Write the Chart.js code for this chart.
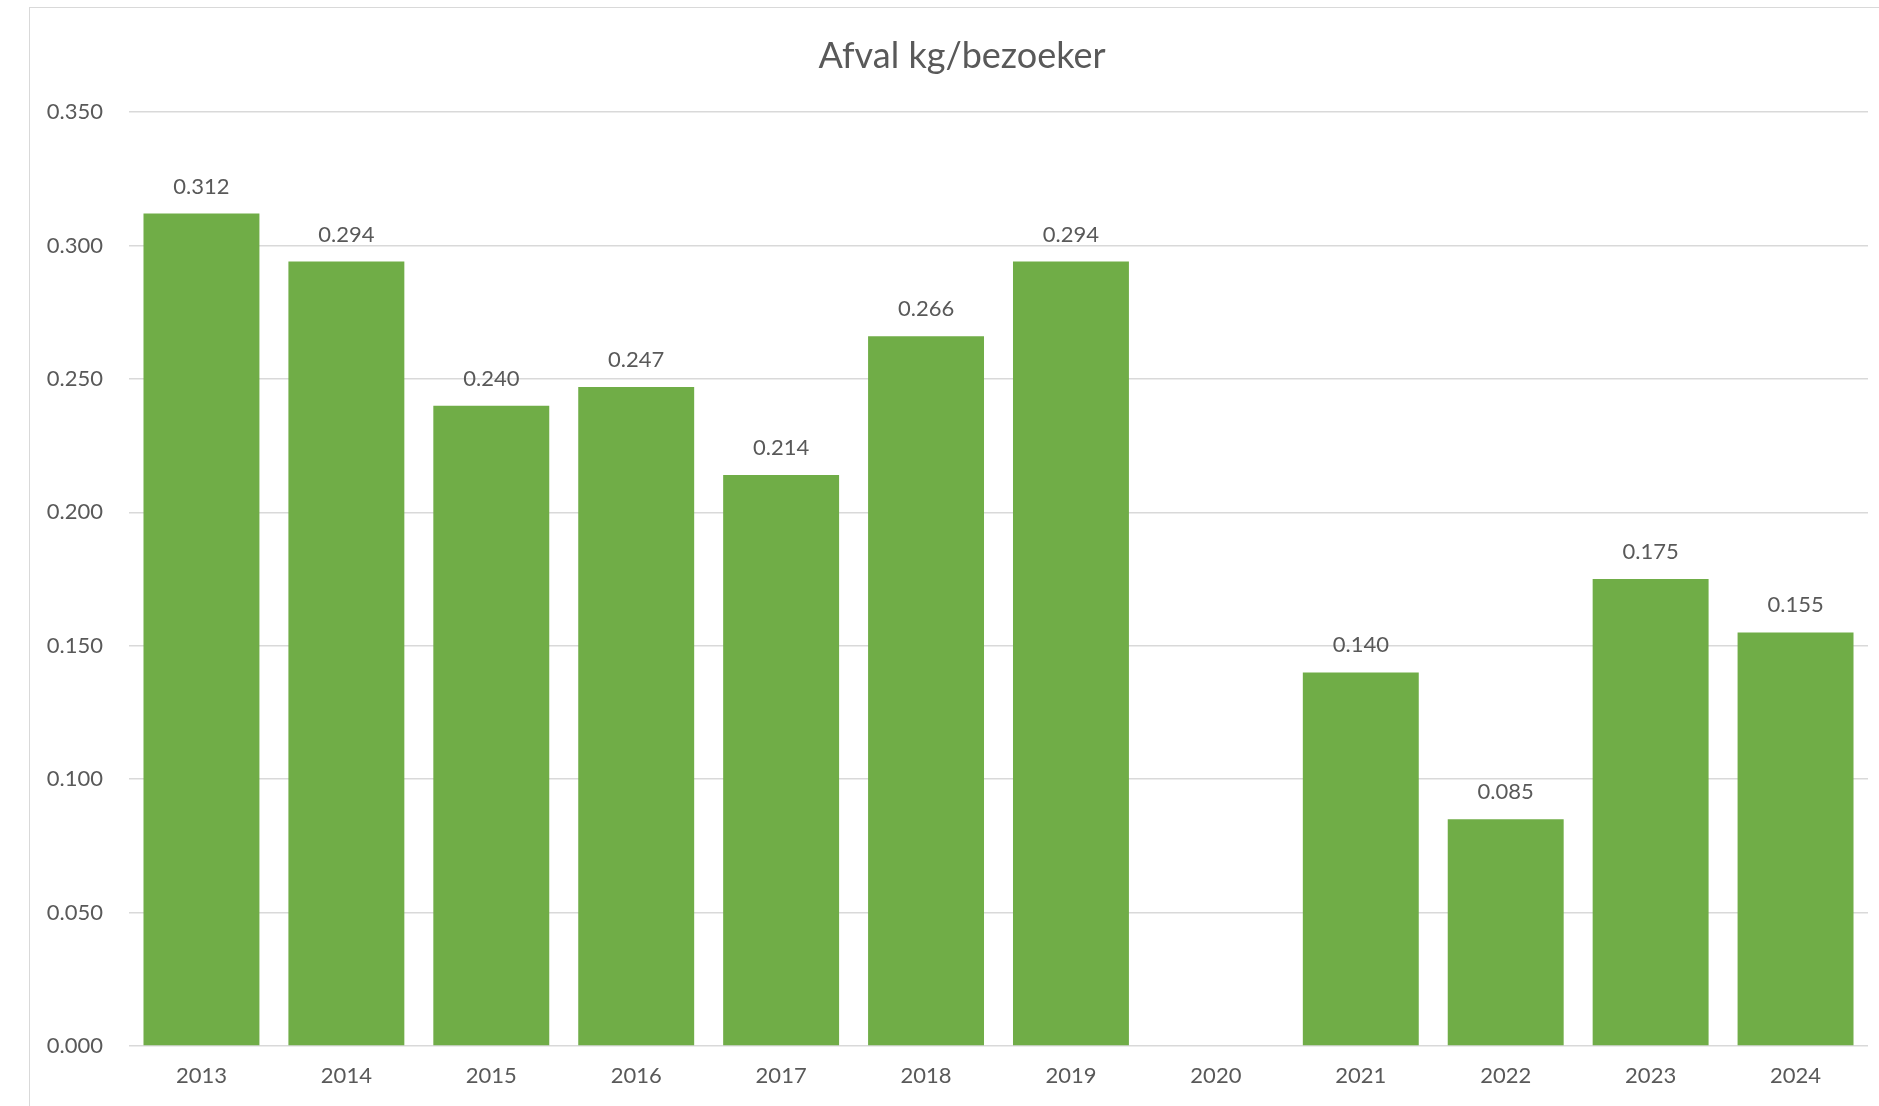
<!DOCTYPE html>
<html>
<head>
<meta charset="utf-8">
<script src="https://cdn.jsdelivr.net/npm/chart.js@4/dist/chart.umd.min.js"></script>
<style>
  html, body { margin: 0; padding: 0; background: #fff; overflow: hidden; width: 1879px; height: 1106px; }
  #wrap { position: absolute; left: 29px; top: 7px; width: 1866px; height: 1120px; border: 1px solid #d9d9d9; box-sizing: border-box; }
  canvas { display: block; }
</style>
</head>
<body>
<div id="wrap"><canvas id="c"></canvas></div>
<script>
const categories = ['2013','2014','2015','2016','2017','2018','2019','2020','2021','2022','2023','2024'];
const values = [0.312, 0.294, 0.240, 0.247, 0.214, 0.266, 0.294, null, 0.140, 0.085, 0.175, 0.155];
const chartTitle = 'Afval kg/bezoeker';
const yMin = 0, yMax = 0.35, yStep = 0.05;

const FONT = 'Lato, "Open Sans", sans-serif';
const TEXT = '#595959';

const valueLabels = {
  id: 'valueLabels',
  afterDatasetsDraw(chart) {
    const ctx = chart.ctx;
    const meta = chart.getDatasetMeta(0);
    ctx.save();
    ctx.font = '22px ' + FONT;
    ctx.fillStyle = TEXT;
    ctx.textAlign = 'center';
    ctx.textBaseline = 'alphabetic';
    meta.data.forEach((bar, i) => {
      const v = values[i];
      if (v === null || v === undefined) return;
      ctx.fillText(v.toFixed(3), bar.x, bar.y - 20);
    });
    ctx.restore();
  }
};

new Chart(document.getElementById('c'), {
  type: 'bar',
  data: {
    labels: categories,
    datasets: [{
      data: values,
      backgroundColor: '#70AD47',
      borderWidth: 0,
      categoryPercentage: 0.8,
      barPercentage: 1.0
    }]
  },
  options: {
    responsive: true,
    maintainAspectRatio: false,
    animation: false,
    layout: { padding: { left: 0, right: 0, top: 0, bottom: 0 } },
    plugins: {
      legend: { display: false },
      tooltip: { enabled: false },
      title: {
        display: true,
        text: chartTitle,
        color: TEXT,
        font: { family: FONT, size: 36, weight: 'normal' },
        padding: { top: 27, bottom: 34 }
      }
    },
    scales: {
      x: {
        grid: { display: false, drawTicks: false },
        border: { display: false },
        ticks: { color: TEXT, font: { family: FONT, size: 22 }, padding: 17, maxRotation: 0 },
        afterFit(scale) { scale.height = 80; }
      },
      y: {
        min: yMin, max: yMax,
        grid: { color: '#d9d9d9', lineWidth: 1.5, drawTicks: false },
        border: { display: false },
        ticks: {
          stepSize: yStep,
          color: TEXT,
          font: { family: FONT, size: 22 },
          padding: 26,
          callback: v => Number(v).toFixed(3)
        },
        afterFit(scale) { scale.width = 99; }
      },
      ySpacer: {
        type: 'linear',
        position: 'right',
        min: yMin, max: yMax,
        grid: { display: false, drawTicks: false },
        border: { display: false },
        ticks: { display: false },
        afterFit(scale) { scale.width = 26; }
      }
    }
  },
  plugins: [valueLabels]
});
</script>
</body>
</html>
